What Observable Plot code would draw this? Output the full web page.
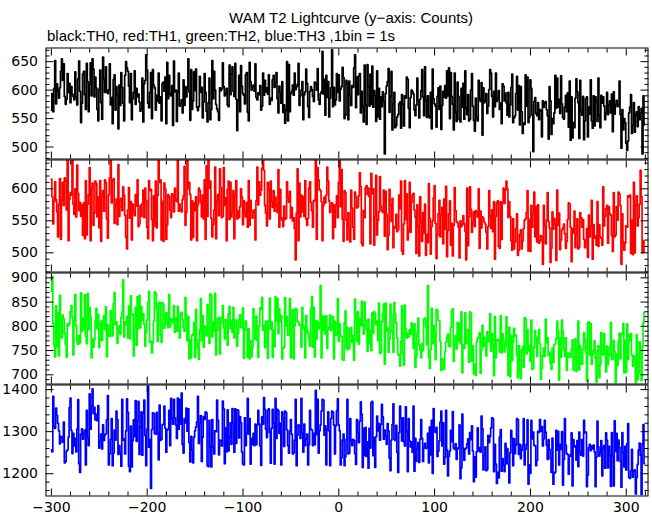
<!DOCTYPE html>
<html><head><meta charset="utf-8">
<script src="https://cdn.jsdelivr.net/npm/d3@7"></script>
<script src="https://cdn.jsdelivr.net/npm/@observablehq/plot@0.6"></script>
<style>
body{margin:0;background:#fff;}
#wrap{position:relative;width:652px;height:515px;overflow:hidden;background:#fff;}
.ttl{position:absolute;font-family:"Liberation Sans",Arial,sans-serif;color:#000;white-space:nowrap;line-height:1;}
#t1{left:351px;top:10px;transform:translateX(-50%);font-size:15px;}
#t2{left:47px;top:28px;font-size:15px;}
</style></head><body><div id="wrap">
<div class="ttl" id="t1">WAM T2 Lightcurve (y−axis: Counts)</div>
<div class="ttl" id="t2">black:TH0, red:TH1, green:TH2, blue:TH3 ,1bin = 1s</div>
</div>
<script>
// time of first bin (s); 1 bin = 1 s
const tStart = -300;

// TH0 (black) counts per 1 s bin
const th0 = [
565,594,562,603,652,576,611,599,586,604,633,655,617,646,589,575,584,629,596,612,
578,606,593,589,583,632,587,574,620,651,598,543,577,628,633,592,566,647,615,562,
611,648,590,655,637,588,623,604,566,546,602,635,578,549,658,619,596,641,598,594,
601,646,574,587,541,619,627,565,606,591,532,609,573,631,605,577,546,626,650,639,
633,607,578,629,548,585,596,634,575,603,588,593,579,563,567,621,544,611,617,662,
635,577,569,596,631,550,636,609,604,565,591,580,630,577,588,546,612,614,598,623,
541,649,585,626,593,590,608,538,651,597,600,545,596,630,572,576,583,560,618,573,
606,588,603,655,597,547,636,566,581,632,599,637,570,564,571,624,596,605,551,579,
629,596,563,544,578,621,548,566,652,585,633,600,575,567,562,547,604,599,602,648,
606,590,593,603,574,571,644,592,628,641,598,589,647,584,529,582,626,562,643,607,
594,591,576,627,631,561,546,649,615,600,606,609,598,646,587,583,595,592,608,565,
572,630,591,617,597,604,593,627,575,586,582,618,626,605,614,631,585,560,607,596,
577,615,561,574,542,565,650,546,645,562,594,598,609,591,630,601,606,610,647,573,
590,600,615,548,592,597,637,612,571,552,598,606,601,589,580,614,611,600,638,583,
575,594,597,668,593,619,556,626,587,615,553,586,604,671,571,605,574,583,629,596,
627,581,602,606,640,622,550,556,617,612,548,616,591,573,608,605,639,662,569,623,
592,625,629,560,598,571,544,644,574,540,645,606,572,628,575,642,570,599,590,545,
634,553,603,549,588,571,597,580,488,594,607,615,638,561,589,633,530,575,596,534,
538,553,557,576,579,533,592,575,537,590,586,623,619,568,534,587,600,597,593,565,
555,574,621,582,551,584,599,636,588,555,641,581,552,590,554,551,596,532,637,585,
576,572,535,589,604,566,607,531,573,598,587,608,586,634,590,639,550,631,589,575,
530,630,561,545,614,589,548,544,603,570,612,549,634,568,557,592,546,549,600,629,
572,547,528,586,551,546,617,584,580,613,521,604,578,581,594,559,572,601,636,630,
589,553,598,571,630,580,585,599,566,577,541,611,607,581,595,578,556,596,553,574,
605,628,543,551,555,594,624,565,608,539,606,562,524,542,540,627,572,623,543,552,
618,603,556,492,580,587,559,555,578,548,566,563,518,581,570,577,580,566,555,514,
606,581,522,550,541,560,626,568,621,570,584,559,625,576,552,549,570,591,562,595,
535,616,512,588,516,543,534,586,620,597,578,515,617,562,556,589,513,546,585,588,
518,570,558,618,546,533,590,537,588,580,545,621,556,534,591,577,588,572,548,559,
596,557,574,581,560,593,527,597,558,575,582,571,574,616,557,498,566,530,550,543,
507,494,511,560,570,592,524,538,578,526,556,562,536,571,548,559,568,488,590,539
];

// TH1 (red)
const th1 = [
615,588,545,580,611,583,564,525,576,616,521,582,610,574,617,612,567,648,519,584,
594,590,648,576,560,600,556,637,593,566,579,557,575,527,578,522,613,528,576,591,
633,519,600,609,543,562,612,608,556,587,539,613,518,589,597,565,614,610,553,523,
591,617,652,578,613,616,546,575,584,544,638,557,582,585,566,603,590,559,524,506,
567,602,554,580,520,576,565,558,591,573,614,541,545,574,557,577,598,555,601,582,
540,522,613,597,599,552,519,589,542,612,539,590,646,610,614,520,580,518,609,600,
521,544,591,588,567,555,592,589,564,601,582,580,650,565,576,568,564,583,589,635,
543,563,647,600,610,591,520,581,524,578,566,588,519,575,601,597,579,556,590,553,
614,521,636,557,649,601,612,554,525,544,567,634,522,580,591,558,631,602,555,557,
633,574,586,519,599,612,552,610,556,563,597,522,589,613,553,565,555,572,600,587,
544,581,563,556,579,540,613,543,582,566,554,564,567,520,581,634,575,611,590,598,
632,647,629,574,562,542,610,599,553,612,580,571,597,565,587,574,563,630,540,599,
555,551,541,573,552,554,611,586,579,596,554,571,550,555,538,489,562,631,519,609,
556,590,564,588,557,613,553,543,554,601,611,579,566,540,582,581,646,521,633,614,
599,597,580,519,574,587,578,590,634,612,581,563,572,578,522,575,540,574,589,555,
610,647,572,630,553,518,597,594,551,520,563,538,517,598,570,540,521,595,587,570,
572,589,625,604,515,511,566,555,602,605,591,601,588,514,624,592,600,512,557,621,
528,551,564,619,573,566,563,598,526,596,560,505,528,599,575,549,585,508,541,539,
560,533,536,590,569,612,503,498,545,613,552,592,520,535,610,532,579,590,593,567,
556,499,575,541,495,588,548,518,563,531,576,496,529,516,608,554,498,541,550,586,
605,546,491,527,561,582,525,559,571,514,584,537,604,494,535,561,581,512,546,495,
543,602,566,549,547,540,492,550,541,544,558,546,534,489,601,511,556,603,568,532,
547,564,541,566,563,556,600,507,565,539,556,554,548,545,532,506,541,597,557,538,
567,533,580,490,557,578,581,510,507,580,521,578,601,577,598,612,600,555,580,557,
519,504,553,506,517,538,561,496,504,529,536,506,519,538,551,553,563,597,503,552,
502,574,540,561,595,525,572,517,575,515,518,527,524,482,574,542,514,551,594,549,
539,485,507,564,537,554,545,488,598,543,562,505,520,536,539,545,530,507,518,552,
578,576,540,486,538,531,565,508,529,553,506,509,563,555,540,552,521,508,519,538,
493,559,525,542,582,490,544,523,526,512,580,510,544,525,523,512,603,542,557,569,
574,515,572,561,559,527,502,594,525,528,572,551,595,592,574,482,561,517,504,515,
542,540,589,587,590,499,551,497,610,500,574,589,542,555,576,629,588,500,519,501
];

// TH2 (green)
const th2 = [
872,903,806,761,737,842,758,827,739,864,812,776,823,815,786,762,736,805,801,807,
831,843,819,741,810,866,800,767,763,781,766,869,790,817,794,865,779,764,868,793,
839,821,735,774,757,772,812,837,795,824,756,775,810,771,813,822,793,840,737,803,
782,779,832,811,780,847,870,803,809,765,794,801,783,818,830,896,778,809,804,820,
776,841,774,863,826,824,739,797,839,761,861,795,864,797,841,812,826,805,759,788,
813,849,872,767,769,745,766,811,871,868,834,769,847,850,782,767,849,846,796,803,
828,814,797,866,799,816,813,807,843,788,817,790,841,799,776,826,829,814,797,790,
859,822,770,820,733,772,735,782,784,808,736,835,772,755,732,793,857,770,822,757,
801,798,780,845,828,765,867,864,778,809,790,868,741,792,816,818,743,807,819,843,
797,774,814,812,761,826,841,795,812,788,839,776,814,811,759,786,815,824,797,805,
838,734,794,811,792,736,795,733,771,737,756,836,802,773,821,771,736,800,838,835,
860,792,802,756,811,809,734,812,858,794,809,736,792,758,861,811,857,785,836,809,
822,733,755,757,859,801,820,782,784,857,735,799,835,733,801,837,834,810,808,802,
803,757,839,801,795,735,822,793,786,772,759,837,861,757,839,737,812,774,810,795,
801,884,735,822,791,820,784,822,755,793,799,823,791,801,820,733,810,782,784,857,
769,805,781,779,732,730,807,832,754,798,752,755,796,798,767,781,730,856,817,769,
830,763,815,801,852,803,784,850,813,794,748,815,765,792,750,828,786,830,827,803,
811,771,848,744,746,809,826,846,722,848,790,797,746,773,846,824,788,746,849,826,
807,776,742,740,718,769,842,743,720,844,795,776,786,778,793,784,807,795,755,805,
715,737,788,817,762,752,735,764,750,815,817,800,762,884,737,713,752,837,764,802,
786,731,835,833,813,811,769,709,733,731,711,748,767,777,784,760,758,798,833,836,
728,762,781,753,808,770,806,764,830,704,762,755,828,764,791,793,726,830,827,728,
760,702,722,699,768,775,777,787,703,751,802,758,777,766,739,789,768,775,826,749,
785,762,698,820,735,771,773,770,747,822,745,785,771,747,764,820,756,699,798,696,
781,729,767,796,779,782,741,694,760,708,692,752,758,716,818,816,743,794,750,760,
728,813,711,713,757,791,778,738,776,793,764,691,713,740,755,738,815,766,776,740,
747,724,711,755,726,762,764,774,811,791,689,776,736,813,789,753,738,776,709,736,
745,743,736,753,772,709,734,774,707,751,811,710,760,736,722,753,787,772,745,687,
807,809,741,806,722,743,751,770,734,685,749,760,694,720,787,743,741,785,744,706,
759,721,740,757,808,731,733,771,748,684,742,719,769,786,733,784,786,806,704,771,
705,805,732,783,770,785,741,718,739,732,683,783,690,703,768,741,688,758,807,829
];

// TH3 (blue)
const th3 = [
1257,1252,1384,1312,1308,1356,1339,1320,1302,1271,1289,1286,1275,1323,1226,1229,1254,1257,1287,1357,
1380,1303,1248,1296,1266,1284,1252,1306,1376,1224,1203,1294,1307,1282,1296,1304,1221,1351,1285,1267,
1390,1306,1361,1402,1343,1358,1328,1341,1326,1362,1261,1277,1294,1259,1316,1279,1292,1295,1328,1386,
1221,1247,1282,1331,1219,1249,1304,1280,1349,1329,1246,1267,1250,1218,1377,1280,1283,1247,1302,1378,
1346,1218,1205,1313,1216,1279,1328,1289,1374,1277,1326,1372,1246,1311,1347,1244,1344,1375,1291,1219,
1306,1408,1263,1281,1165,1305,1345,1343,1296,1294,1346,1296,1233,1363,1279,1282,1316,1318,1361,1308,
1251,1304,1306,1351,1267,1379,1331,1318,1377,1333,1316,1284,1380,1306,1376,1318,1392,1269,1249,1331,
1321,1356,1301,1354,1274,1228,1289,1256,1226,1287,1302,1311,1323,1384,1272,1320,1338,1229,1287,1336,
1329,1347,1345,1219,1217,1327,1265,1216,1329,1263,1247,1302,1300,1375,1327,1245,1280,1278,1266,1373,
1354,1224,1309,1252,1352,1254,1287,1321,1270,1355,1319,1251,1354,1272,1352,1351,1285,1336,1321,1252,
1223,1221,1333,1267,1296,1379,1294,1331,1223,1284,1269,1296,1267,1318,1269,1316,1351,1318,1266,1220,
1335,1318,1381,1353,1306,1286,1351,1354,1298,1225,1308,1353,1320,1223,1379,1284,1353,1350,1296,1320,
1221,1347,1331,1265,1349,1346,1304,1267,1249,1302,1329,1294,1247,1250,1280,1377,1219,1292,1316,1314,
1284,1379,1296,1251,1318,1267,1282,1294,1221,1269,1351,1306,1304,1267,1296,1269,1398,1293,1377,1249,
1302,1316,1349,1377,1375,1292,1314,1221,1304,1347,1302,1219,1331,1349,1346,1316,1247,1314,1350,1378,
1316,1302,1221,1238,1280,1294,1219,1241,1282,1377,1247,1249,1331,1280,1267,1282,1279,1248,1222,1329,
1298,1274,1325,1371,1341,1215,1308,1243,1310,1241,1276,1213,1308,1261,1369,1372,1243,1286,1215,1288,
1337,1302,1319,1280,1317,1365,1335,1282,1304,1290,1270,1319,1302,1237,1207,1280,1317,1366,1282,1279,
1315,1251,1203,1298,1361,1331,1278,1333,1276,1266,1359,1300,1205,1331,1278,1264,1276,1251,1361,1206,
1284,1229,1260,1274,1227,1282,1329,1284,1229,1262,1272,1260,1262,1296,1226,1311,1245,1327,1201,1355,
1305,1298,1310,1241,1254,1278,1323,1349,1266,1321,1223,1239,1351,1256,1195,1241,1254,1303,1276,1348,
1261,1258,1271,1234,1259,1262,1316,1188,1214,1342,1261,1232,1258,1261,1271,1283,1247,1298,1281,1314,
1254,1181,1240,1192,1252,1309,1254,1262,1251,1337,1307,1209,1242,1264,1207,1210,1291,1274,1289,1309,
1333,1331,1205,1270,1223,1177,1203,1190,1287,1305,1206,1236,1221,1205,1272,1224,1260,1223,1178,1250,
1303,1285,1219,1283,1248,1268,1331,1329,1246,1270,1236,1256,1268,1331,1221,1258,1270,1328,1175,1221,
1201,1327,1283,1299,1268,1266,1219,1232,1301,1298,1329,1301,1312,1266,1283,1327,1299,1268,1234,1281,
1258,1236,1203,1285,1175,1201,1204,1303,1256,1301,1221,1270,1258,1300,1173,1234,1331,1268,1248,1246,
1199,1244,1242,1297,1171,1281,1264,1266,1232,1279,1217,1299,1252,1244,1281,1242,1327,1297,1299,1169,
1197,1262,1270,1255,1266,1259,1268,1252,1169,1240,1325,1264,1242,1250,1279,1195,1261,1267,1213,1297,
1280,1214,1265,1243,1170,1298,1241,1171,1326,1253,1296,1231,1280,1263,1229,1168,1298,1251,1216,1265,
1209,1271,1319,1191,1189,1207,1258,1192,1206,1209,1152,1191,1222,1256,1273,1244,1150,1271,1317,1224
];

// axis tick labels
const xTicks = [-300, -200, -100, 0, 100, 200, 300];
const yTicks0 = [500, 550, 600, 650];
const yTicks1 = [500, 550, 600];
const yTicks2 = [700, 750, 800, 850, 900];
const yTicks3 = [1200, 1300, 1400];
const seriesColors = ["#000000", "#ff0000", "#00ff00", "#0000ff"];

const panels = [
  {values: th0, color: seriesColors[0], ticks: yTicks0, minor: 10, domain: [479, 674], top: 47.5, bottom: 158.5},
  {values: th1, color: seriesColors[1], ticks: yTicks1, minor: 10, domain: [470, 645], top: 159.5, bottom: 271.5},
  {values: th2, color: seriesColors[2], ticks: yTicks2, minor: 10, domain: [681, 910], top: 272.5, bottom: 383.5},
  {values: th3, color: seriesColors[3], ticks: yTicks3, minor: 20, domain: [1147, 1411], top: 384.5, bottom: 495.5}
];

const xMinor = d3.range(-300, 323, 20).filter(v => !xTicks.includes(v));
const blank = () => "";
const wrap = document.getElementById("wrap");

panels.forEach((p, k) => {
  const last = k === panels.length - 1;
  const pad = 14;
  const svgTop = Math.floor(p.top) - pad;
  const H = Math.ceil(p.bottom) - svgTop + (last ? 22 : pad);
  const yMinor = d3.range(Math.ceil(p.domain[0] / p.minor) * p.minor, p.domain[1], p.minor).filter(v => !p.ticks.includes(v));
  const chart = Plot.plot({
    width: 652,
    height: H,
    marginLeft: 45.5,
    marginRight: 4.5,
    marginTop: p.top - svgTop,
    marginBottom: svgTop + H - p.bottom,
    x: {domain: [-305.6, 322.7]},
    y: {domain: p.domain},
    style: {background: "transparent", overflow: "visible", fontFamily: "DejaVu Sans, sans-serif", fontSize: "14px", color: "#000"},
    marks: [
      Plot.lineY(p.values, {x: (d, i) => tStart + i, y: d => d, stroke: p.color, strokeWidth: 1.7, curve: "step", clip: true}),
      Plot.frame({stroke: "#000", strokeWidth: 1}),
      Plot.axisY({ticks: yMinor, anchor: "left", tickSize: -4, tickFormat: blank, label: null}),
      Plot.axisY({ticks: p.ticks, anchor: "left", tickSize: -8, tickPadding: 16, label: null, tickFormat: d => String(d)}),
      Plot.axisY({ticks: yMinor, anchor: "right", tickSize: -4, tickFormat: blank, label: null}),
      Plot.axisY({ticks: p.ticks, anchor: "right", tickSize: -8, tickFormat: blank, label: null}),
      Plot.axisX({ticks: xMinor, anchor: "top", tickSize: -4, tickFormat: blank, label: null}),
      Plot.axisX({ticks: xTicks, anchor: "top", tickSize: -7, tickFormat: blank, label: null}),
      Plot.axisX({ticks: xMinor, anchor: "bottom", tickSize: -4, tickFormat: blank, label: null}),
      Plot.axisX({ticks: xTicks, anchor: "bottom", tickSize: -7, tickPadding: 13, label: null,
        tickFormat: last ? (d => d < 0 ? "\u2212" + Math.abs(d) : String(d)) : blank})
    ]
  });
  chart.style.position = "absolute";
  chart.style.left = "0px";
  chart.style.top = svgTop + "px";
  wrap.appendChild(chart);
});
</script>
</body></html>
